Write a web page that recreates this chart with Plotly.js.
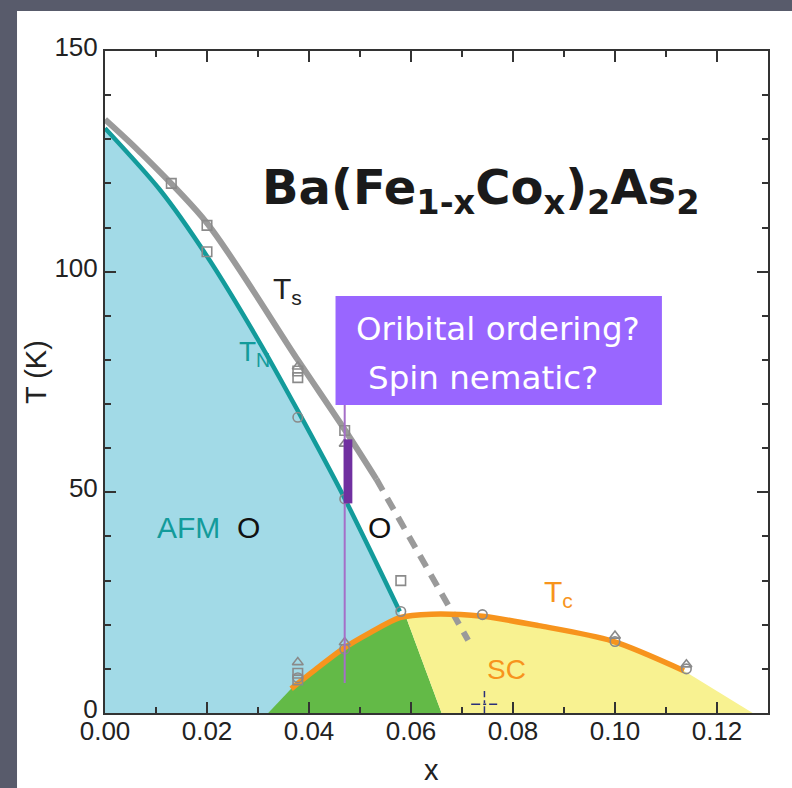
<!DOCTYPE html>
<html>
<head>
<meta charset="utf-8">
<script src="https://cdn.plot.ly/plotly-3.0.1.min.js"></script>
<style>html,body{margin:0;padding:0;background:#585b6b;}#chart{width:792px;height:788px;}</style>
</head>
<body>
<div id="chart"></div>
<script>
// ---- data ----
// T_N (AFM transition, teal)
var tnX = [0, 0.0108, 0.02, 0.0303, 0.0378, 0.0466, 0.0578];
var tnY = [132.5, 118.5, 103.5, 84, 68.5, 49.5, 23];
// T_s (structural transition, gray solid part)
var tsX = [0, 0.0065, 0.02, 0.0378, 0.0474, 0.0532];
var tsY = [134.5, 127.5, 111, 80, 63.5, 53];
// T_s extrapolated (dashed part)
var tsDashX = [0.0532, 0.062, 0.0712];
var tsDashY = [53, 35, 16.5];
// T_c (superconducting dome, orange)
var tcX = [0.0365, 0.042, 0.0466, 0.052, 0.0578, 0.064, 0.074, 0.085, 0.0995, 0.1135];
var tcY = [5.5, 10.5, 14.5, 18.2, 21.6, 22.4, 21.9, 19.8, 16.3, 9.6];
// region boundary end points
var scEndX = 0.127, greenStartX = 0.032, greenEndX = 0.066;
// measured data points
var sqX = [0.013, 0.02, 0.02, 0.0378, 0.0378, 0.047, 0.058, 0.0378, 0.0378];
var sqY = [120, 110.5, 104.5, 77.5, 76, 64, 30, 7.5, 9];
var triX = [0.0378, 0.0378, 0.047, 0.047, 0.1, 0.114];
var triY = [78.5, 11.5, 61, 16, 17.5, 11];
var circX = [0.0378, 0.047, 0.058, 0.074, 0.1, 0.114, 0.047, 0.0378];
var circY = [67, 48.5, 23, 22.3, 16.2, 10, 14.5, 8];
// labels
var formula = 'Ba(Fe<sub>1-x</sub>Co<sub>x</sub>)<sub>2</sub>As<sub>2</sub>';
var boxLine1 = 'Oribital ordering?';
var boxLine2 = 'Spin nematic?';
var xTitle = 'x', yTitle = 'T (K)';

// ---- build polygons ----
var blueX = [0].concat(tnX, [tnX[tnX.length-1], 0]);
var blueY = [0].concat(tnY, [0, 0]);
var greenX = [greenStartX], greenY = [0];
for (var i = 0; i < tcX.length; i++) { if (tcX[i] <= 0.0578) { greenX.push(tcX[i]); greenY.push(tcY[i]); } }
greenX.push(0.059, greenEndX); greenY.push(21.8, 0);
var yellowX = [0.059], yellowY = [21.8];
for (var j = 0; j < tcX.length; j++) { if (tcX[j] > 0.059) { yellowX.push(tcX[j]); yellowY.push(tcY[j]); } }
yellowX.push(scEndX, greenEndX); yellowY.push(0, 0);

var mk = {color: '#8a8a8a', size: 9.5, line: {color: '#8a8a8a', width: 1.6}};
var traces = [
  {x: blueX, y: blueY, mode: 'lines', fill: 'toself', fillcolor: '#a2dae7', line: {width: 0}, hoverinfo: 'skip'},
  {x: greenX, y: greenY, mode: 'lines', fill: 'toself', fillcolor: '#63ba47', line: {width: 0}, hoverinfo: 'skip'},
  {x: yellowX, y: yellowY, mode: 'lines', fill: 'toself', fillcolor: '#f8f291', line: {width: 0}, hoverinfo: 'skip'},
  {x: tsX, y: tsY, mode: 'lines', line: {color: '#9a9a9a', width: 6, shape: 'spline', smoothing: 0.8}},
  {x: tsDashX, y: tsDashY, mode: 'lines', line: {color: '#9a9a9a', width: 6, dash: '13px,9px'}},
  {x: tnX, y: tnY, mode: 'lines', line: {color: '#139b9b', width: 4.5, shape: 'spline', smoothing: 0.8}},
  {x: tcX, y: tcY, mode: 'lines', line: {color: '#f7941d', width: 5.5, shape: 'spline', smoothing: 0.8}},
  {x: sqX, y: sqY, mode: 'markers', marker: Object.assign({symbol: 'square-open'}, mk)},
  {x: triX, y: triY, mode: 'markers', marker: Object.assign({symbol: 'triangle-up-open'}, mk)},
  {x: circX, y: circY, mode: 'markers', marker: Object.assign({symbol: 'circle-open'}, mk)}
];

var tickFont = {family: 'Liberation Sans, Arial, sans-serif', size: 26, color: '#222'};
var axBase = {showline: true, linecolor: '#333', linewidth: 2, mirror: 'ticks', ticks: 'inside',
  ticklen: 11, tickwidth: 2, tickcolor: '#333', showgrid: false, zeroline: false, tickfont: tickFont, fixedrange: true};

var layout = {
  width: 792, height: 788,
  margin: {l: 105, r: 24, t: 51, b: 75, pad: 0},
  paper_bgcolor: '#585b6b', plot_bgcolor: '#ffffff',
  showlegend: false,
  xaxis: Object.assign({}, axBase, {range: [0, 0.13], tick0: 0, dtick: 0.02, tickformat: '.2f', ticklabelstandoff: -6,
    minor: {dtick: 0.01, ticks: 'inside', ticklen: 6, tickwidth: 2, tickcolor: '#333', showgrid: false}}),
  yaxis: Object.assign({}, axBase, {range: [0, 150], tick0: 0, dtick: 50, ticklabelshift: -4,
    minor: {dtick: 10, ticks: 'inside', ticklen: 6, tickwidth: 2, tickcolor: '#333', showgrid: false}}),
  shapes: [
    {type: 'rect', xref: 'paper', yref: 'paper', x0: -0.1327, x1: 1.04, y0: -0.12, y1: 1.0604,
      fillcolor: '#ffffff', line: {width: 0}, layer: 'below'},
    {type: 'line', xref: 'x', yref: 'y', x0: 0.047, x1: 0.047, y0: 6.8, y1: 69.8,
      line: {color: '#a56fc8', width: 2}, layer: 'above'},
    {type: 'rect', xref: 'x', yref: 'y', x0: 0.0468, x1: 0.0485, y0: 47.5, y1: 62,
      fillcolor: '#7030a0', line: {width: 0}, layer: 'above'},
    {type: 'rect', xref: 'x', yref: 'y', x0: 0.0452, x1: 0.1092, y0: 69.8, y1: 94.5,
      fillcolor: '#9966ff', line: {width: 0}, layer: 'above'},
    {type: 'line', xref: 'x', yref: 'y', x0: 0.0718, x1: 0.0769, y0: 2.0, y1: 2.0,
      line: {color: '#2a2f7a', width: 1.5, dash: 'dashdot'}, layer: 'above'},
    {type: 'line', xref: 'x', yref: 'y', x0: 0.0744, x1: 0.0744, y0: -0.5, y1: 5.0,
      line: {color: '#2a2f7a', width: 1.5, dash: 'dashdot'}, layer: 'above'}
  ],
  annotations: [
    {x: 0.0738, y: 118.5, xref: 'x', yref: 'y', text: '<b>' + formula + '</b>', showarrow: false,
      font: {family: 'DejaVu Sans, sans-serif', size: 48, color: '#1a1a1a'}, xanchor: 'center', yanchor: 'middle'},
    {x: 0.0489, y: 86.9, xref: 'x', yref: 'y', text: boxLine1, showarrow: false, xanchor: 'left', yanchor: 'middle',
      font: {family: 'DejaVu Sans, sans-serif', size: 32.5, color: '#ffffff'}},
    {x: 0.0511, y: 76.0, xref: 'x', yref: 'y', text: boxLine2, showarrow: false, xanchor: 'left', yanchor: 'middle',
      font: {family: 'DejaVu Sans, sans-serif', size: 32.5, color: '#ffffff'}},
    {x: 0.0358, y: 95.8, xref: 'x', yref: 'y', text: 'T<sub>s</sub>', showarrow: false,
      font: {family: 'Liberation Sans, Arial, sans-serif', size: 30, color: '#222'}},
    {x: 0.0293, y: 81.5, xref: 'x', yref: 'y', text: 'T<sub>N</sub>', showarrow: false,
      font: {family: 'Liberation Sans, Arial, sans-serif', size: 28, color: '#139b9b'}},
    {x: 0.0164, y: 42.1, xref: 'x', yref: 'y', text: 'AFM', showarrow: false,
      font: {family: 'Liberation Sans, Arial, sans-serif', size: 30, color: '#139b9b'}},
    {x: 0.0282, y: 42.1, xref: 'x', yref: 'y', text: 'O', showarrow: false,
      font: {family: 'Liberation Sans, Arial, sans-serif', size: 30, color: '#111'}},
    {x: 0.0538, y: 42.1, xref: 'x', yref: 'y', text: 'O', showarrow: false,
      font: {family: 'Liberation Sans, Arial, sans-serif', size: 30, color: '#111'}},
    {x: 0.089, y: 27, xref: 'x', yref: 'y', text: 'T<sub>c</sub>', showarrow: false,
      font: {family: 'Liberation Sans, Arial, sans-serif', size: 30, color: '#f7941d'}},
    {x: 0.0787, y: 9.9, xref: 'x', yref: 'y', text: 'SC', showarrow: false,
      font: {family: 'Liberation Sans, Arial, sans-serif', size: 28, color: '#f7941d'}},
    {x: 0.493, y: -0.086, xref: 'paper', yref: 'paper', text: xTitle, showarrow: false,
      xanchor: 'center', yanchor: 'middle', font: {family: 'Liberation Sans, Arial, sans-serif', size: 29, color: '#222'}},
    {x: -0.104, y: 0.515, xref: 'paper', yref: 'paper', text: yTitle, showarrow: false, textangle: -90,
      xanchor: 'center', yanchor: 'middle', font: {family: 'Liberation Sans, Arial, sans-serif', size: 29, color: '#222'}}
  ]
};

Plotly.newPlot('chart', traces, layout, {displayModeBar: false, staticPlot: true});
</script>
</body>
</html>
